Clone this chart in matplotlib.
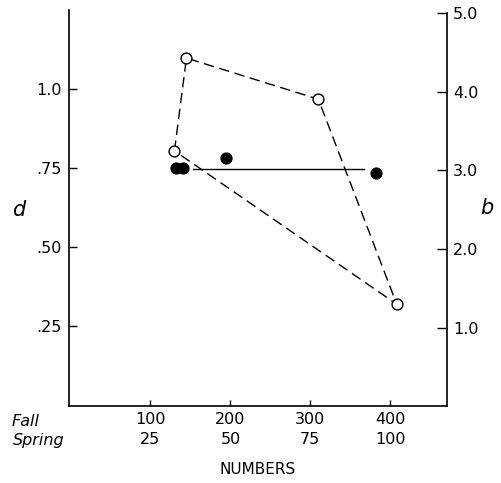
import matplotlib
matplotlib.use("Agg")
import matplotlib.pyplot as plt

# Data
fall_ticks = [100, 200, 300, 400]
spring_ticks = [25, 50, 75, 100]
d_ticks = [0.25, 0.50, 0.75, 1.0]
d_tick_labels = [".25", ".50", ".75", "1.0"]
b_ticks = [1.0, 2.0, 3.0, 4.0, 5.0]
b_tick_labels = ["1.0", "2.0", "3.0", "4.0", "5.0"]

open_x = [130, 145, 310, 408]
open_d = [0.805, 1.098, 0.968, 0.32]

filled_x = [131.5, 140.5, 195, 381.5]
filled_d = [0.75, 0.75, 0.782, 0.735]

line_x = [153, 366.5]
line_d = [0.748, 0.748]

W, H = 501, 483
fig = plt.figure(figsize=(W / 100, H / 100), dpi=100)
plt.rcParams['font.family'] = ['DejaVu Sans']

left_px, right_px, bottom_px, top_px = 68.5, 447.5, 405.5, 10
ax = fig.add_axes([left_px / W, (H - bottom_px) / H,
                   (right_px - left_px) / W, (bottom_px - top_px) / H])

ax.set_xlim(-2.5, 471.5)
ax.set_ylim(0, 1.25)

# polygon of open circles (closed)
px = open_x + [open_x[0]]
py = open_d + [open_d[0]]
ax.plot(px, py, color='black', lw=1.0, dashes=[7.5, 4], zorder=2)
ax.plot(line_x, line_d, color='black', lw=1.0, zorder=2)
ax.plot(open_x, open_d, 'o', ms=7.8, mfc='white', mec='black', mew=1.0, zorder=4)
ax.plot(filled_x, filled_d, 'o', ms=7.8, mfc='black', mec='black', zorder=3)

ax.spines['top'].set_visible(False)
ax.spines['right'].set_visible(False)
for s in ['left', 'bottom']:
    ax.spines[s].set_linewidth(1.2)

ax.set_yticks(d_ticks)
ax.set_yticklabels(d_tick_labels)
ax.tick_params(axis='y', direction='in', length=6, width=1.0, labelsize=11.5, pad=5)

ax.set_xticks(fall_ticks)
ax.set_xticklabels([f"{f}\n{s}" for f, s in zip(fall_ticks, spring_ticks)],
                   linespacing=1.4)
ax.tick_params(axis='x', direction='in', length=4, width=1.0, labelsize=11.5, pad=5)

ax2 = ax.twinx()
ax2.set_ylim(0.016, 5.038)
for s in ['top', 'left', 'bottom']:
    ax2.spines[s].set_visible(False)
ax2.spines['right'].set_linewidth(1.2)
ax2.spines['right'].set_bounds(0.016, 5.0)
ax2.set_yticks(b_ticks)
ax2.set_yticklabels(b_tick_labels)
ax2.tick_params(axis='y', direction='in', length=7, width=1.0, labelsize=11.5, pad=4)

fig.text(19 / W, 1 - 210 / H, "d", fontsize=15, style='italic', ha='center', va='center')
fig.text(487 / W, 1 - 208 / H, "b", fontsize=15, style='italic', ha='center', va='center')
fig.text(12 / W, 1 - 421 / H, "Fall", fontsize=11.5, style='italic', ha='left', va='center')
fig.text(13 / W, 1 - 441 / H, "Spring", fontsize=11.5, style='italic', ha='left', va='center')
fig.text(258 / W, 1 - 470 / H, "NUMBERS", fontsize=11, ha='center', va='center')

fig.savefig("out.png", dpi=100)
